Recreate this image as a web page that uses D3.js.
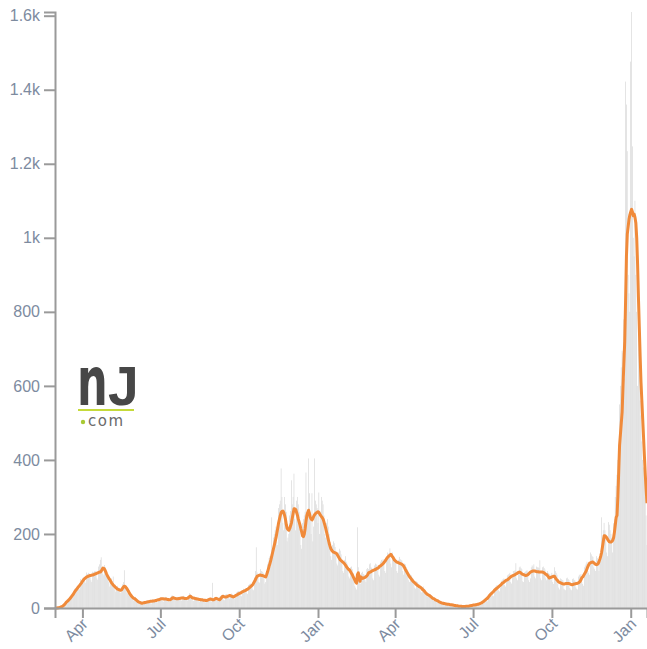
<!DOCTYPE html>
<html lang="en">
<head>
<meta charset="UTF-8">
<title>NJ daily chart</title>
<style>
  body { margin: 0; padding: 0; background: #fff; font-family: "Liberation Sans", Arial, sans-serif; }
  .axis text { fill: #7d8b9f; font-size: 16px; font-family: "Liberation Sans", Arial, sans-serif; }
  .axis path, .axis line { stroke: #9a9a9a; stroke-width: 2; }
</style>
</head>
<body>
<svg id="chart"></svg>
<script src="https://d3js.org/d3.v7.min.js"></script>
<script>
// first day of the data (one value per day from here on)
const firstDay = new Date(2020, 2, 1);
const domainStart = new Date(2020, 1, 29);
const domainEnd = new Date(2022, 0, 20);

// daily reported counts, one row per month (Mar 2020 .. Jan 20 2022)
const dailyCounts = [
  0,0,1,1,2,2,3,3,6,8,9,14,17,13,15,26,29,30,33,35,32,31,52,49,55,58,60,52,50,78,72,
  80,82,84,72,68,96,92,95,93,90,75,70,98,97,99,100,95,80,76,112,118,130,137,110,92,88,116,110,96,90,
  86,70,58,75,80,72,85,62,50,44,58,60,55,54,42,40,52,64,70,102,62,50,42,40,46,48,40,35,31,24,20,
  22,30,26,22,20,14,11,16,18,15,16,15,12,11,18,20,21,19,17,13,12,22,23,21,22,20,16,15,25,27,
  28,27,25,18,17,28,30,29,27,24,18,17,26,33,34,32,30,22,20,28,30,29,31,28,21,20,32,33,31,28,27,
  22,20,33,40,38,34,30,20,19,31,30,29,27,24,18,17,26,25,26,24,22,16,15,24,25,27,28,26,18,17,68,
  25,26,28,27,20,19,18,30,32,34,35,30,22,21,36,38,36,35,28,25,33,39,37,34,31,24,28,42,44,46,
  44,45,34,32,48,52,50,52,54,40,38,62,64,66,65,60,50,48,82,100,164,96,90,70,68,105,100,98,95,80,66,
  70,88,118,125,135,140,110,245,140,190,200,210,220,180,170,270,280,290,377,300,230,210,300,280,260,180,190,200,250,262,
  345,280,300,363,240,210,290,300,280,260,230,170,160,230,240,250,260,366,230,250,404,310,260,200,310,180,220,404,290,280,270,
  230,312,200,260,300,290,280,250,200,190,230,240,220,200,170,140,130,170,180,175,165,150,120,115,150,160,155,145,130,100,95,
  130,140,125,120,110,85,80,110,112,105,95,80,60,55,50,218,110,100,70,65,95,98,92,90,75,70,105,108,
  105,118,121,110,108,80,75,115,120,118,115,112,90,85,125,130,128,132,121,100,95,140,150,145,148,161,120,110,150,140,132,
  135,125,100,95,130,138,132,130,128,100,90,120,118,110,105,96,75,70,90,88,82,80,70,55,52,72,70,66,64,55,
  45,42,55,58,52,48,45,32,30,40,38,36,34,30,22,20,28,26,24,22,20,14,13,18,17,15,14,12,9,9,13,
  12,11,10,11,8,7,9,10,9,8,7,5,4,6,6,6,5,5,3,3,4,5,5,6,6,4,4,7,8,8,
  9,9,6,6,8,12,12,13,14,12,10,17,19,21,24,25,20,18,34,38,42,44,40,34,32,52,56,60,62,55,48,
  45,55,72,75,78,80,62,58,72,88,90,92,95,70,66,90,100,100,102,121,80,75,100,110,112,108,105,72,70,96,98,
  100,102,98,75,70,80,110,115,112,118,85,80,112,110,110,108,129,80,75,110,112,108,104,80,75,100,95,92,90,75,
  95,70,65,110,100,95,90,65,55,50,80,78,76,75,52,50,48,80,82,78,76,54,50,48,78,80,76,74,56,52,50,
  85,90,88,92,70,65,60,110,115,120,125,100,95,90,150,145,140,138,110,105,100,140,135,130,100,130,125,245,190,210,
  230,210,200,150,140,232,225,210,200,190,150,229,240,300,330,360,400,440,550,600,650,695,690,780,620,1422,1360,1234,900,850,800,
  1476,1610,1247,1000,950,1100,900,800,600,850,700,560,520,450,400,380,350,300,250,170
];

// 7-day average, same days
const sevenDayAvg = [
  0,0,0,1,1,2,3,4,5,7,9,12,15,17,19,22,24,27,30,33,36,40,44,47,50,53,56,59,62,65,68,
  72,75,78,80,82,84,85,86,87,88,88,89,89,90,91,92,93,94,95,96,97,97,100,104,108,107,104,99,93,88,
  84,80,76,72,68,65,62,60,57,55,53,51,50,49,48,48,50,54,57,59,58,55,52,48,44,40,36,33,30,28,26,
  25,23,21,19,17,16,15,14,13,13,14,14,15,15,16,16,17,17,18,18,18,19,19,19,20,20,21,22,22,23,
  24,25,25,25,24,24,24,24,23,23,22,22,23,25,27,28,27,26,25,25,25,25,26,26,27,27,27,27,26,26,26,
  26,27,29,31,32,30,28,27,27,26,25,25,24,24,23,23,22,22,22,21,21,21,20,20,21,22,23,24,24,23,22,
  22,23,25,26,25,24,23,22,24,27,30,32,31,30,30,30,31,32,33,34,33,32,31,30,31,32,34,35,36,38,
  39,40,41,43,44,45,46,47,48,50,51,53,55,57,59,61,64,68,72,77,82,86,87,88,89,89,88,88,87,86,85,
  84,90,97,105,113,121,130,140,150,160,170,180,190,203,216,230,240,250,258,261,262,258,250,240,225,215,212,210,215,222,
  230,243,256,268,268,266,258,250,240,232,224,214,205,195,193,200,215,235,250,258,264,255,245,240,238,242,248,252,255,257,258,
  260,258,254,250,247,244,240,232,224,215,205,195,185,175,167,160,156,153,151,150,149,148,146,142,138,134,130,128,126,124,122,
  119,116,112,109,106,104,102,98,94,90,85,80,75,70,67,90,95,86,72,84,82,80,81,82,83,85,87,90,
  95,96,97,98,100,101,102,103,104,106,107,108,110,113,114,116,118,120,123,126,129,133,136,139,141,143,145,142,138,135,130,
  128,126,124,123,122,121,120,119,118,116,113,109,104,100,96,92,88,84,81,78,75,72,70,68,65,63,61,60,58,57,
  55,53,50,48,46,43,40,38,36,35,34,32,30,28,26,25,24,22,21,20,19,17,16,15,14,13,13,12,12,11,11,
  10,10,10,9,9,9,8,8,7,7,6,6,6,5,5,5,5,4,4,4,4,4,5,5,5,5,6,6,7,7,
  8,8,8,9,9,10,10,11,12,13,14,16,17,19,21,23,25,27,30,33,36,38,40,43,45,48,50,52,54,56,58,
  60,62,64,67,68,70,72,74,75,76,78,80,82,84,86,87,88,89,90,92,93,95,96,97,96,94,92,91,90,89,88,
  88,89,90,92,95,97,98,99,100,100,100,99,98,98,98,97,97,97,97,97,96,95,93,91,90,87,84,81,82,83,
  84,85,86,86,82,78,76,73,70,69,68,67,66,65,65,65,66,66,66,66,66,65,64,63,63,64,65,65,66,66,67,
  68,70,72,77,82,84,88,92,96,100,106,112,117,121,122,123,124,124,122,120,118,117,118,120,125,132,140,150,165,180,
  195,195,193,190,186,182,179,178,178,180,183,190,205,225,245,250,300,370,440,470,500,530,600,660,720,830,950,1010,1030,1050,1062,
  1070,1077,1070,1060,1064,1055,1040,1000,930,840,760,680,610,560,510,460,410,360,320,283
];

const width = 647;
const height = 649;
const margin = { top: 12, right: 0, bottom: 41, left: 55 };

const days = dailyCounts.map((v, i) => d3.timeDay.offset(firstDay, i));

const svg = d3.select("#chart")
  .attr("width", width)
  .attr("height", height);

const x = d3.scaleTime()
  .domain([domainStart, domainEnd])
  .range([margin.left, width - margin.right]);

const y = d3.scaleLinear()
  .domain([0, d3.max(dailyCounts)])
  .range([height - margin.bottom, margin.top]);

const barW = x(d3.timeDay.offset(domainStart, 1)) - x(domainStart);

// daily bars
svg.append("g")
  .selectAll("rect")
  .data(dailyCounts)
  .join("rect")
  .attr("x", (d, i) => x(days[i]) - barW / 2)
  .attr("width", barW * 0.85)
  .attr("y", d => y(d))
  .attr("height", d => y(0) - y(d))
  .attr("fill", "#dadada");

// 7-day average line
const line = d3.line()
  .x((d, i) => x(days[i]))
  .y(d => y(d));

svg.append("path")
  .datum(sevenDayAvg)
  .attr("fill", "none")
  .attr("stroke", "#f08a3a")
  .attr("stroke-width", 3)
  .attr("stroke-linejoin", "round")
  .attr("d", line);

// axes
const yAxis = svg.append("g")
  .attr("class", "axis")
  .attr("transform", `translate(${margin.left},0)`)
  .call(d3.axisLeft(y).tickValues(d3.range(0, 1601, 200)).tickFormat(d3.format("~s")).tickSize(11).tickPadding(4));

const xAxis = svg.append("g")
  .attr("class", "axis")
  .attr("transform", `translate(0,${height - margin.bottom})`)
  .call(d3.axisBottom(x).ticks(d3.timeMonth.every(3)).tickFormat(d3.timeFormat("%b")).tickSize(10));

xAxis.selectAll("text")
  .attr("y", 0)
  .attr("x", 0)
  .attr("dy", "0.35em")
  .attr("text-anchor", "end")
  .attr("transform", "translate(2,13) rotate(-45)");

// nj.com logo
const logo = svg.append("g").attr("transform", "translate(77,405)");
logo.append("text")
  .text("n")
  .attr("transform", "scale(0.98,1.55)")
  .attr("font-family", "DejaVu Sans")
  .attr("font-weight", "bold")
  .attr("font-size", 44)
  .attr("fill", "#474747");
logo.append("text")
  .text("J")
  .attr("transform", "translate(31,0) scale(1.2,1.2)")
  .attr("font-family", "Liberation Sans")
  .attr("font-weight", "bold")
  .attr("font-size", 46)
  .attr("fill", "#474747");
logo.append("line")
  .attr("x1", 1).attr("x2", 57)
  .attr("y1", 5).attr("y2", 5)
  .attr("stroke", "#c5da3a")
  .attr("stroke-width", 2);
logo.append("circle")
  .attr("cx", 6).attr("cy", 17).attr("r", 2.2)
  .attr("fill", "#a8c934");
logo.append("text")
  .text("com")
  .attr("x", 11).attr("y", 21)
  .attr("font-family", "DejaVu Sans")
  .attr("font-size", 15)
  .attr("letter-spacing", 1.5)
  .attr("fill", "#6a6a6a");
</script>
</body>
</html>
